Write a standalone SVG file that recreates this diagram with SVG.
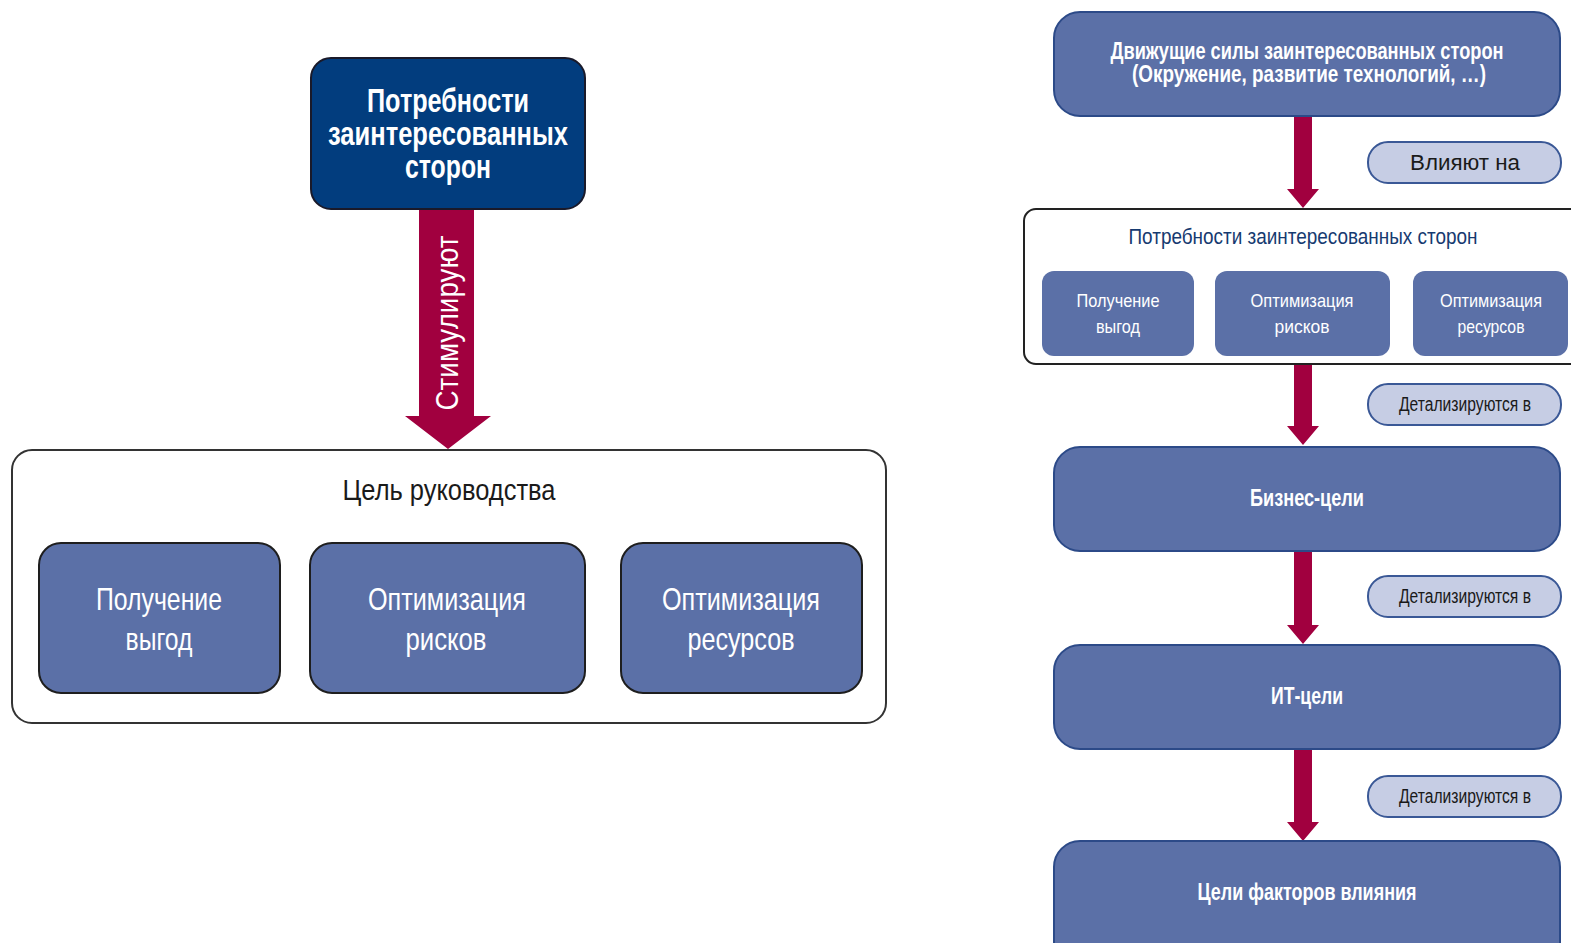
<svg xmlns="http://www.w3.org/2000/svg" width="1571" height="943" viewBox="0 0 1571 943">
<defs>
<style>
.t{font-family:"Liberation Sans Narrow","Liberation Sans",Arial,sans-serif}
.w{fill:#ffffff}
.b{font-weight:bold}
.mid{fill:#5b70a7}
.lstroke{stroke:#1e1e1e;stroke-width:2}
.rstroke{stroke:#2c4a88;stroke-width:2}
.pill{fill:#c6cde4;stroke:#3a5896;stroke-width:2}
.arr{fill:#a1003f}
</style>
</defs>
<rect width="1571" height="943" fill="#ffffff"/>

<g id="connectors">
  <polygon class="arr" points="419,209 474,209 474,416 491,416 448,449 405,416 419,416"/>
  <polygon class="arr" points="1294,116 1312,116 1312,189 1319,189 1303,208 1287,189 1294,189"/>
  <polygon class="arr" points="1294,356 1312,356 1312,426 1319,426 1303,445 1287,426 1294,426"/>
  <polygon class="arr" points="1294,551 1312,551 1312,625 1319,625 1303,644 1287,625 1294,625"/>
  <polygon class="arr" points="1294,749 1312,749 1312,822 1319,822 1303,841 1287,822 1294,822"/>
  <text class="t w" font-size="32" text-anchor="middle" transform="translate(458,323) rotate(-90)" textLength="175" lengthAdjust="spacingAndGlyphs">Стимулируют</text>
</g>

<g id="stakeholder-needs-left">
  <rect x="311" y="58" width="274" height="151" rx="20" fill="#023d7e" stroke="#1a1a2a" stroke-width="2"/>
  <text class="t w b" font-size="33" text-anchor="middle" x="448" y="112" textLength="162" lengthAdjust="spacingAndGlyphs">Потребности</text>
  <text class="t w b" font-size="33" text-anchor="middle" x="448" y="145" textLength="240" lengthAdjust="spacingAndGlyphs">заинтересованных</text>
  <text class="t w b" font-size="33" text-anchor="middle" x="448" y="178" textLength="86" lengthAdjust="spacingAndGlyphs">сторон</text>
</g>

<g id="governance-goal">
  <rect x="12" y="450" width="874" height="273" rx="20" fill="#ffffff" stroke="#333333" stroke-width="2"/>
  <text class="t" font-size="30" fill="#1a1a1a" text-anchor="middle" x="449" y="500" textLength="213" lengthAdjust="spacingAndGlyphs">Цель руководства</text>
</g>
<g id="left-benefits">
  <rect class="mid lstroke" x="39" y="543" width="241" height="150" rx="22"/>
  <text class="t w" font-size="32" text-anchor="middle" x="159" y="610" textLength="126" lengthAdjust="spacingAndGlyphs">Получение</text>
  <text class="t w" font-size="32" text-anchor="middle" x="159" y="650" textLength="67" lengthAdjust="spacingAndGlyphs">выгод</text>
</g>
<g id="left-risk">
  <rect class="mid lstroke" x="310" y="543" width="275" height="150" rx="22"/>
  <text class="t w" font-size="32" text-anchor="middle" x="447" y="610" textLength="158" lengthAdjust="spacingAndGlyphs">Оптимизация</text>
  <text class="t w" font-size="32" text-anchor="middle" x="446" y="650" textLength="81" lengthAdjust="spacingAndGlyphs">рисков</text>
</g>
<g id="left-resource">
  <rect class="mid lstroke" x="621" y="543" width="241" height="150" rx="22"/>
  <text class="t w" font-size="32" text-anchor="middle" x="741" y="610" textLength="158" lengthAdjust="spacingAndGlyphs">Оптимизация</text>
  <text class="t w" font-size="32" text-anchor="middle" x="741" y="650" textLength="107" lengthAdjust="spacingAndGlyphs">ресурсов</text>
</g>

<g id="drivers">
  <rect class="mid rstroke" x="1054" y="12" width="506" height="104" rx="26"/>
  <text class="t w b" font-size="23" text-anchor="middle" x="1307" y="59" textLength="393" lengthAdjust="spacingAndGlyphs">Движущие силы заинтересованных сторон</text>
  <text class="t w b" font-size="23" text-anchor="middle" x="1309" y="82" textLength="354" lengthAdjust="spacingAndGlyphs">(Окружение, развитие технологий, …)</text>
</g>
<g id="label-influence">
  <rect class="pill" x="1368" y="142" width="193" height="41" rx="20"/>
  <text class="t" font-size="22" fill="#1a1a1a" text-anchor="middle" x="1465" y="170" textLength="110" lengthAdjust="spacingAndGlyphs">Влияют на</text>
</g>
<g id="stakeholder-needs-right">
  <rect x="1024" y="209" width="562" height="155" rx="12" fill="#ffffff" stroke="#222222" stroke-width="2"/>
  <text class="t" font-size="22" fill="#163a70" text-anchor="middle" x="1303" y="244" textLength="349" lengthAdjust="spacingAndGlyphs">Потребности заинтересованных сторон</text>
</g>
<g id="right-benefits">
  <rect class="mid" x="1042" y="271" width="152" height="85" rx="12"/>
  <text class="t w" font-size="19" text-anchor="middle" x="1118" y="307" textLength="83" lengthAdjust="spacingAndGlyphs">Получение</text>
  <text class="t w" font-size="19" text-anchor="middle" x="1118" y="333" textLength="44" lengthAdjust="spacingAndGlyphs">выгод</text>
</g>
<g id="right-risk">
  <rect class="mid" x="1215" y="271" width="175" height="85" rx="12"/>
  <text class="t w" font-size="19" text-anchor="middle" x="1302" y="307" textLength="103" lengthAdjust="spacingAndGlyphs">Оптимизация</text>
  <text class="t w" font-size="19" text-anchor="middle" x="1302" y="333" textLength="55" lengthAdjust="spacingAndGlyphs">рисков</text>
</g>
<g id="right-resource">
  <rect class="mid" x="1413" y="271" width="155" height="85" rx="12"/>
  <text class="t w" font-size="19" text-anchor="middle" x="1491" y="307" textLength="102" lengthAdjust="spacingAndGlyphs">Оптимизация</text>
  <text class="t w" font-size="19" text-anchor="middle" x="1491" y="333" textLength="67" lengthAdjust="spacingAndGlyphs">ресурсов</text>
</g>
<g id="label-detail-1">
  <rect class="pill" x="1368" y="384" width="193" height="41" rx="20"/>
  <text class="t" font-size="20" fill="#1a1a1a" text-anchor="middle" x="1465" y="411" textLength="132" lengthAdjust="spacingAndGlyphs">Детализируются в</text>
</g>
<g id="business-goals">
  <rect class="mid rstroke" x="1054" y="447" width="506" height="104" rx="26"/>
  <text class="t w b" font-size="23" text-anchor="middle" x="1307" y="506" textLength="114" lengthAdjust="spacingAndGlyphs">Бизнес-цели</text>
</g>
<g id="label-detail-2">
  <rect class="pill" x="1368" y="576" width="193" height="41" rx="20"/>
  <text class="t" font-size="20" fill="#1a1a1a" text-anchor="middle" x="1465" y="603" textLength="132" lengthAdjust="spacingAndGlyphs">Детализируются в</text>
</g>
<g id="it-goals">
  <rect class="mid rstroke" x="1054" y="645" width="506" height="104" rx="26"/>
  <text class="t w b" font-size="23" text-anchor="middle" x="1307" y="704" textLength="72" lengthAdjust="spacingAndGlyphs">ИТ-цели</text>
</g>
<g id="label-detail-3">
  <rect class="pill" x="1368" y="776" width="193" height="41" rx="20"/>
  <text class="t" font-size="20" fill="#1a1a1a" text-anchor="middle" x="1465" y="803" textLength="132" lengthAdjust="spacingAndGlyphs">Детализируются в</text>
</g>
<g id="enabler-goals">
  <rect class="mid rstroke" x="1054" y="841" width="506" height="130" rx="26"/>
  <text class="t w b" font-size="23" text-anchor="middle" x="1307" y="900" textLength="219" lengthAdjust="spacingAndGlyphs">Цели факторов влияния</text>
</g>
</svg>
